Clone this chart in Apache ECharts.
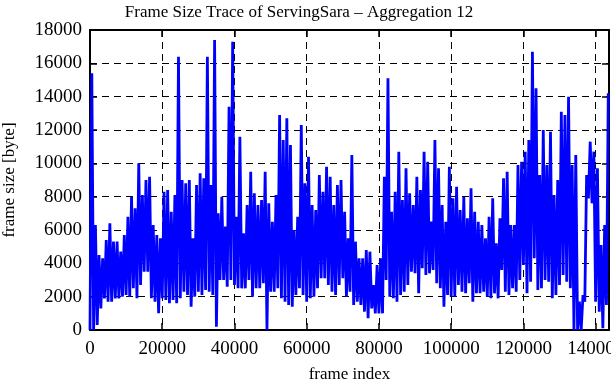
<!DOCTYPE html>
<html><head><meta charset="utf-8">
<script src="https://cdn.jsdelivr.net/npm/echarts@6/dist/echarts.min.js"></script>
<style>html,body{margin:0;padding:0;background:#fff}#c{width:611px;height:380px}</style>
</head><body><div id="c"></div>
<script>
// Frame index bins (1000 frames each); per bin the largest and smallest frame size
const binSize = 1000;
const binHigh = [
15400,6300,4500,4300,5400,6400,5300,5300,4700,5700,
6800,8000,7300,10000,8100,9000,9200,6300,5700,5500,
8300,8400,7100,8100,16400,9000,8800,9000,5500,8700,
9400,9100,16400,8700,17400,7000,8000,6200,13400,17300,
6800,11600,5800,7500,9500,8200,7500,7800,9500,7600,
6500,8100,12900,11400,12700,11100,6000,6800,12300,8800,
10400,7500,7200,9300,8300,9800,9200,7500,8700,9000,
7100,5500,10500,5300,4300,4300,4800,4700,2700,3900,
4300,9200,15100,7100,8300,10700,7800,9700,8200,7500,
9200,8400,10700,10100,6500,11400,9700,7500,6500,9800,
7900,8600,7200,8000,6700,8500,7100,6500,6300,5500,
6800,7900,5200,6700,9100,9500,6300,6300,9900,10100,
10700,11400,16700,14500,9300,12000,9900,11900,8100,9000,
13100,12900,14000,9900,10500,1700,2100,9300,11300,10700,
9700,5100,6300,14200
];
const binLow = [
0,0,300,1300,1900,1700,1700,1900,1900,2000,
2100,2000,2500,1900,2700,3500,3500,1900,1700,1000,
1900,1800,1600,1800,1600,1900,2300,2100,1400,2000,
2300,2100,2400,2300,2100,200,3000,3000,2600,3000,
2700,2500,2500,2500,3000,2000,2500,2500,2800,0,
2300,2300,2500,1900,1700,1500,1400,2100,2500,2100,
1700,1900,2000,2500,3100,3100,2700,2300,2100,2700,
3100,2000,2300,1500,1700,1500,1100,700,1300,1000,
1000,1000,3000,2000,1900,1700,2100,2300,2700,3500,
3400,2200,3700,3300,3400,3600,2800,2500,1400,2100,
2000,2000,2700,2300,2200,2800,1700,2200,2200,2300,
2000,1900,2200,1900,3600,2300,2100,2500,2300,3000,
3900,2200,2900,4300,2400,2500,3000,2900,1900,2100,
2700,3300,2900,2500,0,0,0,1700,7900,7600,
1700,1100,100,1500
];
const xMax = 143700;
const yMax = 18000;
const xStep = 20000;
const yStep = 2000;
const titleText = 'Frame Size Trace of ServingSara \u2013 Aggregation 12';
const xName = 'frame index';
const yName = 'frame size [byte]';

const points = [];
for (let i = 0; i < binHigh.length; i++) {
  points.push([i * binSize, binLow[i]]);
  points.push([i * binSize + binSize / 2, binHigh[i]]);
}

const font = 'Liberation Serif';
const chart = echarts.init(document.getElementById('c'), null, {renderer: 'canvas'});
const tickStyle = {show: true, inside: true, length: 7, lineStyle: {color: '#000', width: 1.5}};
const lineStyle = {show: true, onZero: false, lineStyle: {color: '#000', width: 2}};
const plain = v => String(v);
chart.setOption({
  animation: false,
  backgroundColor: '#fff',
  title: {text: titleText, left: 294, textAlign: 'center', top: -1,
    textStyle: {fontFamily: font, fontSize: 17, fontWeight: 'normal', color: '#000'}},
  grid: {left: 90, right: 2, top: 30, bottom: 50, containLabel: false, outerBoundsMode: 'none'},
  xAxis: [{
    type: 'value', min: 0, max: xMax, interval: xStep, position: 'bottom',
    name: xName, nameLocation: 'middle', nameGap: 36,
    nameTextStyle: {fontFamily: font, fontSize: 17, color: '#000'},
    axisLine: lineStyle, axisTick: tickStyle,
    axisLabel: {fontFamily: font, fontSize: 19, color: '#000', margin: 10, showMaxLabel: false, formatter: plain},
    splitLine: {show: true, lineStyle: {color: '#000', width: 1, type: [7, 5]}}
  }, {
    type: 'value', min: 0, max: xMax, interval: xStep, position: 'top',
    axisLine: lineStyle, axisTick: tickStyle, axisLabel: {show: false}, splitLine: {show: false}
  }],
  yAxis: [{
    type: 'value', min: 0, max: yMax, interval: yStep, position: 'left',
    name: yName, nameLocation: 'middle', nameGap: 72, nameRotate: 90,
    nameTextStyle: {fontFamily: font, fontSize: 17, color: '#000'},
    axisLine: lineStyle, axisTick: tickStyle,
    axisLabel: {fontFamily: font, fontSize: 19, color: '#000', margin: 8, formatter: plain},
    splitLine: {show: true, lineStyle: {color: '#000', width: 1, type: [7, 5]}}
  }, {
    type: 'value', min: 0, max: yMax, interval: yStep, position: 'right',
    axisLine: lineStyle, axisTick: tickStyle, axisLabel: {show: false}, splitLine: {show: false}
  }],
  series: [{
    type: 'line', data: points, showSymbol: false, symbol: 'none',
    lineStyle: {color: '#0000ff', width: 2.8}, z: 2
  }]
});
</script>
</body></html>
